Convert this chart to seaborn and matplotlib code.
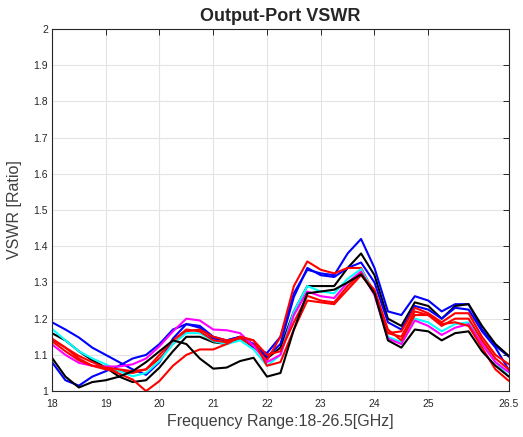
import matplotlib
matplotlib.use("Agg")
import matplotlib.pyplot as plt
import numpy as np
import pandas as pd
import seaborn as sns

# frequency points (GHz)
freq = [18, 18.25, 18.5, 18.75, 19, 19.25, 19.5, 19.75, 20, 20.25, 20.5, 20.75,
        21, 21.25, 21.5, 21.75, 22, 22.25, 22.5, 22.75, 23, 23.25, 23.5, 23.75,
        24, 24.25, 24.5, 24.75, 25, 25.25, 25.5, 25.75, 26, 26.25, 26.5]

blue1 = [1.19, 1.17, 1.148, 1.12, 1.10, 1.08, 1.06, 1.045, 1.08, 1.145, 1.185, 1.18,
         1.15, 1.14, 1.15, 1.12, 1.105, 1.15, 1.27, 1.335, 1.325, 1.32, 1.38, 1.42,
         1.34, 1.22, 1.21, 1.262, 1.25, 1.22, 1.24, 1.24, 1.17, 1.125, 1.095]
black1 = [1.16, 1.14, 1.11, 1.085, 1.065, 1.04, 1.025, 1.03, 1.065, 1.11, 1.15, 1.15,
          1.135, 1.13, 1.145, 1.125, 1.09, 1.12, 1.22, 1.29, 1.29, 1.29, 1.34, 1.38,
          1.32, 1.2, 1.18, 1.245, 1.235, 1.2, 1.235, 1.24, 1.18, 1.13, 1.097]
blue2 = [1.08, 1.03, 1.015, 1.04, 1.055, 1.07, 1.09, 1.10, 1.13, 1.17, 1.185, 1.175,
         1.145, 1.14, 1.15, 1.13, 1.095, 1.13, 1.26, 1.34, 1.32, 1.315, 1.34, 1.355,
         1.30, 1.19, 1.17, 1.235, 1.225, 1.2, 1.23, 1.225, 1.165, 1.12, 1.058]
red1 = [1.145, 1.12, 1.09, 1.07, 1.06, 1.055, 1.05, 1.06, 1.09, 1.13, 1.165, 1.17,
        1.15, 1.14, 1.145, 1.125, 1.085, 1.15, 1.29, 1.358, 1.335, 1.325, 1.34, 1.34,
        1.27, 1.16, 1.165, 1.23, 1.215, 1.19, 1.215, 1.215, 1.15, 1.10, 1.074]
cyan = [1.172, 1.14, 1.11, 1.09, 1.074, 1.055, 1.041, 1.05, 1.083, 1.13, 1.16, 1.16,
        1.138, 1.13, 1.14, 1.115, 1.07, 1.10, 1.22, 1.29, 1.275, 1.27, 1.31, 1.337,
        1.27, 1.15, 1.135, 1.20, 1.19, 1.165, 1.185, 1.19, 1.13, 1.08, 1.04]
magenta = [1.129, 1.10, 1.078, 1.07, 1.068, 1.068, 1.074, 1.09, 1.124, 1.165, 1.20, 1.195,
           1.17, 1.168, 1.16, 1.125, 1.08, 1.10, 1.21, 1.275, 1.262, 1.257, 1.30, 1.33,
           1.265, 1.145, 1.13, 1.195, 1.18, 1.155, 1.175, 1.185, 1.13, 1.08, 1.052]
red2 = [1.138, 1.11, 1.085, 1.07, 1.065, 1.06, 1.055, 1.06, 1.10, 1.14, 1.17, 1.165,
        1.14, 1.135, 1.15, 1.14, 1.10, 1.11, 1.19, 1.263, 1.25, 1.245, 1.29, 1.325,
        1.27, 1.16, 1.15, 1.22, 1.21, 1.18, 1.20, 1.20, 1.14, 1.09, 1.06]
red3 = [1.143, 1.12, 1.097, 1.08, 1.064, 1.048, 1.032, 1.0, 1.028, 1.07, 1.10, 1.115,
        1.115, 1.13, 1.15, 1.14, 1.07, 1.08, 1.17, 1.25, 1.245, 1.24, 1.28, 1.32,
        1.28, 1.17, 1.14, 1.21, 1.21, 1.185, 1.19, 1.18, 1.12, 1.06, 1.028]
black2 = [1.092, 1.04, 1.01, 1.025, 1.03, 1.04, 1.055, 1.08, 1.11, 1.14, 1.13, 1.09,
          1.062, 1.065, 1.083, 1.092, 1.04, 1.05, 1.17, 1.27, 1.275, 1.28, 1.30, 1.322,
          1.27, 1.14, 1.12, 1.17, 1.165, 1.14, 1.16, 1.165, 1.11, 1.07, 1.04]

series = {"blue1": blue1, "black1": black1, "blue2": blue2, "red1": red1,
          "cyan": cyan, "magenta": magenta, "red2": red2, "red3": red3,
          "black2": black2}
colors = {"blue1": "#0000ff", "black1": "#000000", "blue2": "#0000ff",
          "red1": "#ff0000", "cyan": "#00ffff", "magenta": "#ff00ff",
          "red2": "#ff0000", "red3": "#ff0000", "black2": "#000000"}

xticks = [18, 19, 20, 21, 22, 23, 24, 25, 26.5]
yticks = [1, 1.1, 1.2, 1.3, 1.4, 1.5, 1.6, 1.7, 1.8, 1.9, 2]

df = pd.concat([pd.DataFrame({"freq": freq, "vswr": v, "unit": k}) for k, v in series.items()])

sns.set_style("white")
plt.rcParams["font.family"] = ["Liberation Sans", "DejaVu Sans"]

fig = plt.figure(figsize=(5.23, 4.37), dpi=100)
ax = fig.add_axes([0.0994, 0.105, 0.8736, 0.829])

sns.lineplot(data=df, x="freq", y="vswr", hue="unit", palette=colors, sort=False,
             linewidth=1.5, legend=False, ax=ax, estimator=None, units="unit")

ax.set_xlim(18, 26.5)
ax.set_ylim(1, 2)
ax.set_xticks(xticks)
ax.set_xticklabels(["%g" % t for t in xticks])
ax.set_yticks(yticks)
ax.set_yticklabels(["%g" % t for t in yticks])
ax.grid(True, color="#e3e3e3", linewidth=0.8)
ax.tick_params(direction="in", length=4, width=0.7, labelsize=7.5, colors="#262626",
               pad=3, top=True, right=True)
ax.tick_params(axis="x", pad=6)
for s in ax.spines.values():
    s.set_color("#262626")
    s.set_linewidth(0.8)

ax.set_title("Output-Port VSWR", fontsize=13, fontweight="bold", pad=6)
ax.set_xlabel("Frequency Range:18-26.5[GHz]", fontsize=11.5, color="#404040", labelpad=3)
ax.set_ylabel("VSWR [Ratio]", fontsize=11.5, color="#404040", labelpad=8)

fig.savefig("out.png", dpi=100)
